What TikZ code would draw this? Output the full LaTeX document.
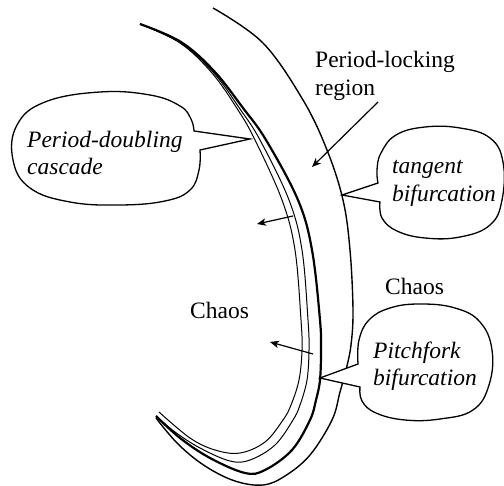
\documentclass[tikz,border=0pt]{standalone}
\usepackage{fontspec}
\setmainfont{Liberation Serif}
\usetikzlibrary{arrows.meta}
\begin{document}
\begin{tikzpicture}[x=1pt,y=-1pt,
  thincurve/.style={line width=1.0pt},
  boldcurve/.style={line width=2.2pt},
  outercurve/.style={line width=1.4pt},
  bubble/.style={draw, line width=1.3pt, fill=white, line join=miter},
  lbl/.style={inner sep=0pt, anchor=base west, font=\fontsize{23.5}{27.5}\selectfont},
  arr/.style={line width=1.2pt, -{Stealth[length=9pt,width=7.5pt,inset=2.5pt]}}
]
\useasboundingbox (0,0) rectangle (504,486);

% curves
\draw[thincurve] plot[smooth, tension=0.6] coordinates {(140,24) (180,43) (212,73) (238,110) (255,140) (282,200) (295,250) (301,320) (302,350) (299,380) (291,405) (283,420) (265,442) (240,453) (215,450) (190,438) (159,412)};
\draw[thincurve] plot[smooth, tension=0.6] coordinates {(140,24) (180,42.5) (213,72) (240,109) (260,140) (289,200) (302,250) (308,320) (309,350) (307,380) (300,405) (293,420) (275,445) (250,460) (230,461) (200,448) (175,432) (156,416)};
\draw[boldcurve] plot[smooth, tension=0.6] coordinates {(140,24) (181,42) (214,71) (243,108) (266,140) (298,200) (312,250) (320,320) (321,350) (320,380) (316,400) (310,420) (292,450) (265,470) (245,473) (210,458) (180,438) (156,416)};
\draw[outercurve] plot[smooth, tension=0.6] coordinates {(213,8) (263,43) (303,100) (327,150) (343,200) (350,250) (353,310) (351,345) (346,370) (340,392) (332,420) (310,455) (285,476) (263,485) (235,481) (205,466) (178,444) (156,418)};

% callout bubbles
\coordinate (pdU) at (194,131); \coordinate (pdT) at (250,139); \coordinate (pdL) at (200,150);
\draw[bubble] plot[smooth, tension=0.7] coordinates {(200,150) (199,170) (190,190) (165,201) (120,205) (70,202) (30,188) (13,160) (17,125) (45,102) (100,92) (150,95) (180,106) (191,119) (194,131)} -- (pdT) -- cycle;

\coordinate (tbU) at (378,183); \coordinate (tbT) at (342,195); \coordinate (tbL) at (380,202);
\draw[bubble] plot[smooth, tension=0.7] coordinates {(380,202) (382,218) (397,231) (425,238) (460,237) (490,225) (502,200) (503,162) (490,138) (460,128) (425,127) (396,135) (381,153) (377,170) (378,183)} -- (tbT) -- cycle;

\coordinate (pbU) at (358,364); \coordinate (pbT) at (320,378); \coordinate (pbL) at (360,387);
\draw[bubble] plot[smooth, tension=0.7] coordinates {(360,387) (362,401) (376,413) (405,420) (440,419) (473,410) (489,385) (492,350) (480,322) (455,308) (420,304) (390,308) (369,320) (359,340) (358,364)} -- (pbT) -- cycle;

% labels
\node[lbl] (plr) at (315,68) {\begin{tabular}[t]{@{}l@{}}Period-locking\\region\end{tabular}};
\node[lbl, font=\fontsize{23.5}{26.5}\selectfont\itshape] (pdc) at (27,148) {\begin{tabular}[t]{@{}l@{}}Period-doubling\\cascade\end{tabular}};
\node[lbl, font=\fontsize{23.5}{28}\selectfont\itshape] (tbf) at (392,174) {\begin{tabular}[t]{@{}l@{}}tangent\\bifurcation\end{tabular}};
\node[lbl, font=\fontsize{23.5}{27}\selectfont\itshape] (pbf) at (373,359) {\begin{tabular}[t]{@{}l@{}}Pitchfork\\bifurcation\end{tabular}};
\node[lbl] (chaosR) at (385,295) {Chaos};
\node[lbl] (chaosL) at (190,319) {Chaos};

% arrows
\coordinate (a1s) at (378,102); \coordinate (a1e) at (312,167);
\coordinate (a2s) at (293,216); \coordinate (a2e) at (257,224);
\coordinate (a3s) at (313,354); \coordinate (a3e) at (270,342);
\draw[arr] (a1s) -- (a1e);
\draw[arr] (a2s) -- (a2e);
\draw[arr] (a3s) -- (a3e);
\end{tikzpicture}
\end{document}
